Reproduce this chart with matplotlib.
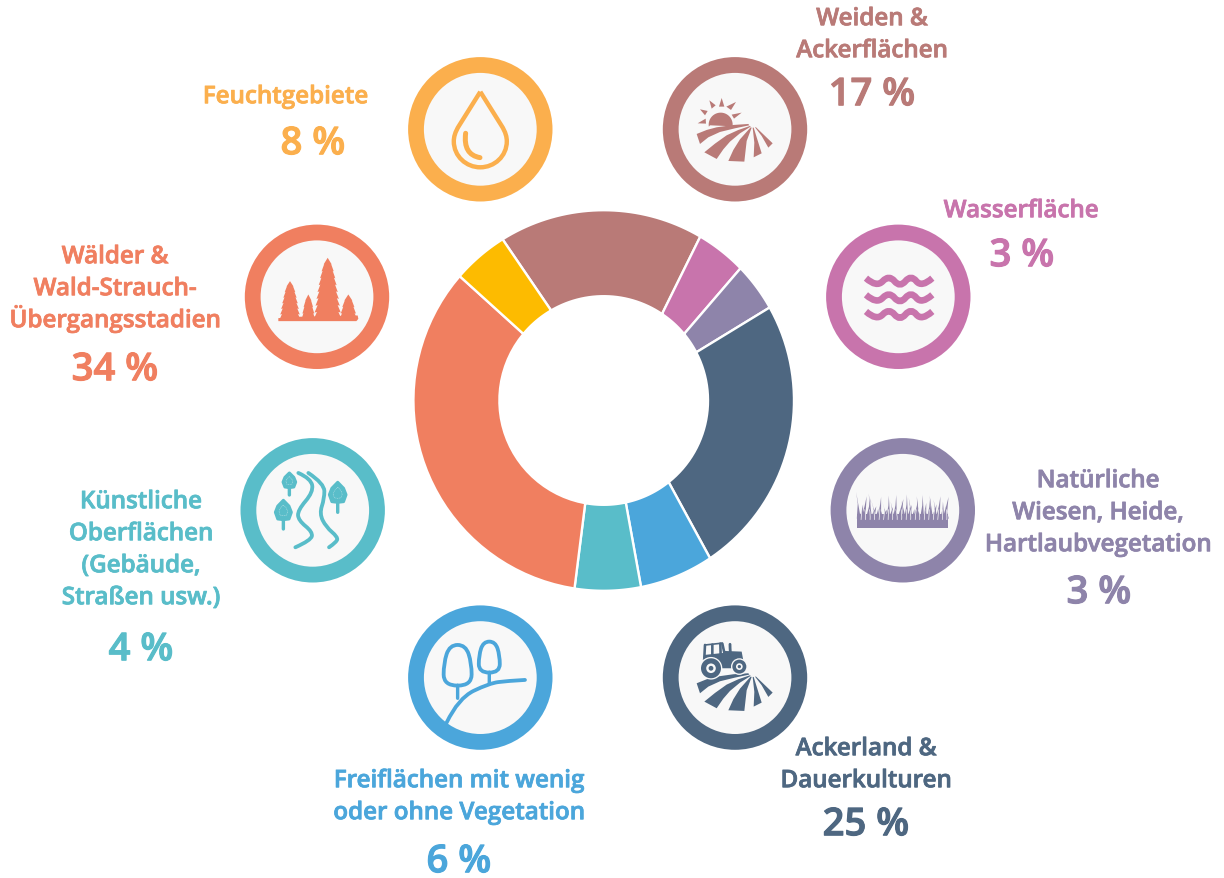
import numpy as np
import matplotlib
matplotlib.use("Agg")
import matplotlib.pyplot as plt
import matplotlib.patheffects as pe
from matplotlib.patches import Circle, PathPatch, Polygon
from matplotlib.path import Path

W = 1224
H = 879

plt.rcParams['font.family'] = ['Open Sans', 'DejaVu Sans']

# clockwise from the top left of the ring
categories = ['Weiden & Ackerflächen', 'Wasserfläche', 'Natürliche Wiesen, Heide, Hartlaubvegetation',
              'Ackerland & Dauerkulturen', 'Freiflächen mit wenig oder ohne Vegetation',
              'Künstliche Oberflächen (Gebäude, Straßen usw.)',
              'Wälder & Wald-Strauch-Übergangsstadien', 'Feuchtgebiete']
# printed numbers
percent_labels = [17, 3, 3, 25, 6, 4, 34, 8]
# the drawn slices do not follow the printed numbers, these are read off the ring
slice_shares = [17.4, 4.3, 4.1, 23.7, 6.3, 5.6, 33.9, 4.75]
# dividers are not quite radial in the original, so the hole edge has its own shares
slice_shares_inner = [17.86, 4.56, 3.36, 21.94, 7.31, 6.22, 33.19, 5.56]
slice_colors = ['#B97A77', '#C874AC', '#8E84AA', '#4E6781', '#4BA6DB', '#59BDC9', '#F07F60', '#FDBB00']
label_colors = ['#B97A77', '#C874AC', '#8E84AA', '#4E6781', '#4BA6DB', '#59BDC9', '#F07F60', '#FBAF4D']

label_lines = [['Weiden &', 'Ackerflächen'], ['Wasserfläche'], ['Natürliche', 'Wiesen, Heide,', 'Hartlaubvegetation'],
               ['Ackerland &', 'Dauerkulturen'], ['Freiflächen mit wenig', 'oder ohne Vegetation'],
               ['Künstliche', 'Oberflächen', '(Gebäude,', 'Straßen usw.)'],
               ['Wälder &', 'Wald-Strauch-', 'Übergangsstadien'], ['Feuchtgebiete']]
# text anchors in image pixels: x, first line centre y, x of number, centre y of number
label_pos = [(872, 17, 872, 92), (1021, 209, 1022, 253), (1098, 479, 1099, 590),
             (866, 747, 866, 822), (459, 779, 459, 859), (141, 500, 141, 647),
             (115, 255, 115, 367), (285.5, 95, 313, 141)]
ring_pos = [(735, 129.5), (898.3, 297), (902.8, 510.5), (735, 677.8),
            (480.3, 677.8), (312.7, 510.5), (317, 297), (480.3, 129.5)]

grass_tops = [-55, -18, -42, -8, -36, -50, -12, -30, -5, -40, -20, -2, -28, -44, -10, -26, -46, -14, -34, -6,
              -30, -48, -16, -38, -4, -28, -42, -12, -46, -22, -8, -36, -44, -18, -32, -42, -10, -26, -40, -14]
grass_lean = [-8, 6, 10, -6, 8, -4, 12, -10, 4, 6, -8, 10, -12, 2, 8, -6, 4, -10, 12, -4,
              -8, 2, 10, -6, 4, 8, -2, -10, 2, 6, -8, 4, -4, 10, -6, 8, -10, 2, 12, -4]

fig = plt.figure(figsize=(W / 100, H / 100), dpi=100)
ax = fig.add_axes([0, 0, 1, 1])
PX = 72 / 100  # points per pixel


def Y(py):
    return H - py - 0.8


# ---- icon helpers, coordinates are in 3x crop units relative to the ring centre
def to_xy(c, pts):
    return [(c[0] + x / 3, Y(c[1] + y / 3)) for x, y in pts]


def poly(c, pts, color):
    ax.add_patch(Polygon(to_xy(c, pts), closed=True, fc=color, ec='none', zorder=4))


def smooth(c, pts, color, lw, cap='round', zorder=4):
    # quadratic spline through the midpoints of pts
    xy = to_xy(c, pts)
    verts = [xy[0]]
    codes = [Path.MOVETO]
    for i in range(1, len(xy) - 1):
        mid = ((xy[i][0] + xy[i + 1][0]) / 2, (xy[i][1] + xy[i + 1][1]) / 2)
        if i == len(xy) - 2:
            mid = xy[-1]
        verts += [xy[i], mid]
        codes += [Path.CURVE3, Path.CURVE3]
    ax.add_patch(PathPatch(Path(verts, codes), fc='none', ec=color, lw=lw * PX,
                           capstyle=cap, joinstyle='round', zorder=zorder))


def field(c, color, dy=0):
    bands = [
        [(-115, 14), (-85, 2), (-55, -6), (-5, -13), (40, -16), (43, -12), (0, -3), (-45, 8), (-80, 24), (-105, 44)],
        [(-92, 69), (-60, 43), (-25, 18), (10, 2), (45, -10), (47, -8), (15, 12), (-15, 37), (-35, 60), (-55, 89)],
        [(-20, 95), (-5, 62), (15, 30), (47, -6), (50, -5), (35, 35), (28, 97)],
        [(53, -5), (56, -5), (80, 72), (56, 84), (58, 40)],
        [(60, -6), (63, -6), (113, 42), (100, 55), (80, 20)],
    ]
    for b in bands:
        poly(c, [(x, y + dy) for x, y in b], color)


def icon_drop(c, color):
    x0, y0 = c[0], Y(c[1])
    p = [(0, -37.5), (-21, -4), (-25.5, 3), (-26.5, 8), (-26.5, 12), (-26.5, 27), (-14, 38), (0, 38),
         (14, 38), (26.5, 27), (26.5, 12), (26.5, 8), (25.5, 3), (21, -4), (0, -37.5)]
    verts = [(x0 + a, y0 - b) for a, b in p]
    codes = [Path.MOVETO, Path.LINETO] + [Path.CURVE4] * 12 + [Path.LINETO]
    ax.add_patch(PathPatch(Path(verts, codes), fc='none', ec=color, lw=4.4 * PX, joinstyle='miter', zorder=4))
    smooth(c, [(-44, 12), (-52, 76), (-1, 85)], color, 5)


def icon_sun(c, color):
    t = np.linspace(np.radians(-8), np.radians(190), 30)
    arc = [(-43 + 36 * np.cos(a), -14 - 36 * np.sin(a)) for a in t]
    poly(c, arc + [(-75, -12)], color)
    rays = [[(-105, -60), (-82, -55), (-90, -42)], [(-77, -87), (-58, -72), (-70, -62)],
            [(-40, -94), (-32, -68), (-48, -68)], [(3, -82), (-12, -58), (-26, -68)],
            [(20, -50), (-3, -32), (-10, -44)], [(-112, -18), (-88, -32), (-87, -17)]]
    for r in rays:
        poly(c, r, color)
    field(c, color)


def icon_tractor(c, color, bg):
    field(c, color, dy=3)
    poly(c, [(-93, -100), (-37, -106), (-37, -101), (-93, -95)], color)
    for a, b in [((-90, -98), (-92, -60)), ((-68, -99), (-68, -62)), ((-44, -102), (-43, -65)), ((-38, -102), (-30, -65))]:
        smooth(c, [a, ((a[0] + b[0]) / 2, (a[1] + b[1]) / 2), b], color, 2.6)
    poly(c, [(-97, -54), (-92, -68), (-35, -74), (-33, -80), (20, -78), (27, -40), (-10, -28), (-40, -28), (-50, -48)], color)
    smooth(c, [(-15, -100), (-15, -90), (-14, -76)], color, 2.8)
    for cx, cy, r in [(-72, -28, 30), (13, -33, 21)]:
        x, y = to_xy(c, [(cx, cy)])[0]
        ax.add_patch(Circle((x, y), (r + 4) / 3, fc=bg, ec='none', zorder=4))
        ax.add_patch(Circle((x, y), r / 3, fc=color, ec='none', zorder=4))
        ax.add_patch(Circle((x, y), r * 0.48 / 3, fc=bg, ec='none', zorder=4))
        ax.add_patch(Circle((x, y), r * 0.24 / 3, fc=color, ec='none', zorder=4))


def icon_waves(c, color):
    for dy in [-47, 3, 53]:
        pts = [(-97, -9), (-65, 20), (-28, -20), (5, 20), (38, -20), (70, 20), (102, -9)]
        smooth(c, [(x, y + dy) for x, y in pts], color, 6.6, cap='butt')


def icon_grass(c, color):
    xs = np.linspace(-132, 132, len(grass_tops))
    poly(c, [(-136, 10), (-136, 54), (136, 54), (136, 10)], color)
    for x, t, l in zip(xs, grass_tops, grass_lean):
        poly(c, [(x - 6, 25), (x + l * 0.4, t * 0.5 + 8), (x + l, t), (x + 6, 25)], color)
    for x, l in zip(xs[1::2], grass_lean[1::2]):
        smooth(c, [(x, 28), (x + 1, 12), (x + l * 0.4, -2)], '#F8F8F8', 0.7)


def spruce(cx, top, base, half, n):
    # jagged outline, tip to base and back
    left = []
    right = []
    step = (base - top) / n
    for i in range(1, n + 1):
        f = i / n
        w = half * f ** 0.55
        y = top + (base - top) * f
        left += [(cx - w, y), (cx - w * 0.82, y - step * 0.1)]
        right += [(cx + w, y), (cx + w * 0.82, y - step * 0.1)]
    return [(cx, top)] + right + [(cx + half, base), (cx - half, base)] + left[::-1]


def icon_forest(c, color):
    poly(c, spruce(32, -117, 68, 42, 9), color)
    poly(c, spruce(-81, -47, 70, 32, 7), color)
    poly(c, spruce(-26, -7, 70, 21, 4), color)
    poly(c, spruce(94, -7, 70, 27, 4), color)
    poly(c, [(-116, 64), (-60, 60), (122, 56), (124, 66), (118, 73), (-116, 73)], color)


def leaf(c, cx, top, bot, half, stem, color, bg):
    h = bot - top
    pts = [(cx, top), (cx + half * 0.7, top + h * 0.3), (cx + half, top + h * 0.62), (cx + half * 0.7, bot - 2),
           (cx, bot), (cx - half * 0.7, bot - 2), (cx - half, top + h * 0.62), (cx - half * 0.7, top + h * 0.3)]
    ax.add_patch(Polygon(to_xy(c, pts), closed=True, fc=color, ec=color, lw=3 * PX, joinstyle='round', zorder=4))
    smooth(c, [(cx, bot), (cx, (bot + stem) / 2), (cx, stem)], color, 3.4)
    inner = [(x * 0.55 + cx * 0.45, y * 0.55 + (top + h * 0.55) * 0.45) for x, y in pts]
    ax.add_patch(Polygon(to_xy(c, inner), closed=True, fc='none', ec=bg, lw=0.35, alpha=0.7,
                         ls=(0, (2, 1.5)), zorder=5))


def icon_roads(c, color, bg):
    smooth(c, [(-43, -112), (-5, -95), (2, -55), (-45, 0), (-43, 30), (0, 65), (-5, 90), (-52, 111)], color, 3.8)
    smooth(c, [(-13, -112), (35, -80), (35, -35), (20, 10), (40, 50), (75, 80), (72, 95), (49, 111)], color, 3.8)
    leaf(c, -70, -112, -68, 19, -46, color, bg)
    leaf(c, 75, -84, -24, 25, 6, color, bg)
    leaf(c, -88, -30, 28, 24, 56, color, bg)


def icon_trees(c, color):
    for cx, top, bot, half, stem in [(-68, -98, 24, 40, 62), (27, -108, -15, 30, 17)]:
        h = bot - top
        pts = [(cx, bot), (cx + half * 1.05, bot), (cx + half * 1.05, top + h * 0.45), (cx + half * 0.6, top),
               (cx - half * 0.6, top), (cx - half * 1.05, top + h * 0.45), (cx - half * 1.05, bot), (cx, bot)]
        smooth(c, pts, color, 3.8)
        smooth(c, [(cx, bot), (cx, (bot + stem) / 2), (cx, stem)], color, 3.4)
    smooth(c, [(-101, 135), (-66, 62), (27, 17), (80, 10), (134, 7)], color, 3.8)


# ---- donut: the pie gives the outer arcs, each slice is then closed on its own hole angles
cx0, cy0 = 603.7, Y(400.7)
R_OUT, R_IN = 190.3, 104.3
wedges, _ = ax.pie(slice_shares, colors=slice_colors, startangle=122.1, counterclock=False,
                   center=(cx0, cy0), radius=R_OUT, frame=True)
inner_edges = 120.3 - np.cumsum([0] + slice_shares_inner) * 3.6
for i, w in enumerate(wedges):
    a_out = np.radians(np.linspace(w.theta2, w.theta1, 40))
    a_in = np.radians(np.linspace(inner_edges[i + 1], inner_edges[i], 30))
    xs = np.r_[cx0 + R_OUT * np.cos(a_out), cx0 + R_IN * np.cos(a_in)]
    ys = np.r_[cy0 + R_OUT * np.sin(a_out), cy0 + R_IN * np.sin(a_in)]
    ax.add_patch(Polygon(np.c_[xs, ys], closed=True, fc=slice_colors[i], ec='white', lw=1.7, zorder=1.5))
    w.set_visible(False)

# ---- rings and labels
BG = '#F8F8F8'
for i, (cx, cy) in enumerate(ring_pos):
    col = label_colors[i]
    ax.add_patch(Circle((cx, Y(cy)), 72.2, fc=col, ec='none', zorder=2))
    ax.add_patch(Circle((cx, Y(cy)), 56.4, fc=BG, ec='none', zorder=3))

    lx, ly, nx, ny = label_pos[i]
    for j, line in enumerate(label_lines[i]):
        ax.text(lx, Y(ly + 32 * j + 8.4), line, color=col, fontsize=17.4, fontweight=600,
                ha='center', va='baseline',
                path_effects=[pe.withStroke(linewidth=0.55, foreground=col)])
    ax.text(nx, Y(ny + 13.4), '%d %%' % percent_labels[i], color=col, fontsize=27.5, fontweight=600,
            ha='center', va='baseline',
            path_effects=[pe.withStroke(linewidth=0.8, foreground=col)])

icon_sun(ring_pos[0], label_colors[0])
icon_waves(ring_pos[1], label_colors[1])
icon_grass(ring_pos[2], label_colors[2])
icon_tractor(ring_pos[3], label_colors[3], BG)
icon_trees(ring_pos[4], label_colors[4])
icon_roads(ring_pos[5], label_colors[5], BG)
icon_forest(ring_pos[6], label_colors[6])
icon_drop(ring_pos[7], label_colors[7])

ax.set_xlim(0, W)
ax.set_ylim(0, H)
ax.set_aspect('equal')
ax.axis('off')

fig.savefig('out.png', dpi=100, facecolor='white')
